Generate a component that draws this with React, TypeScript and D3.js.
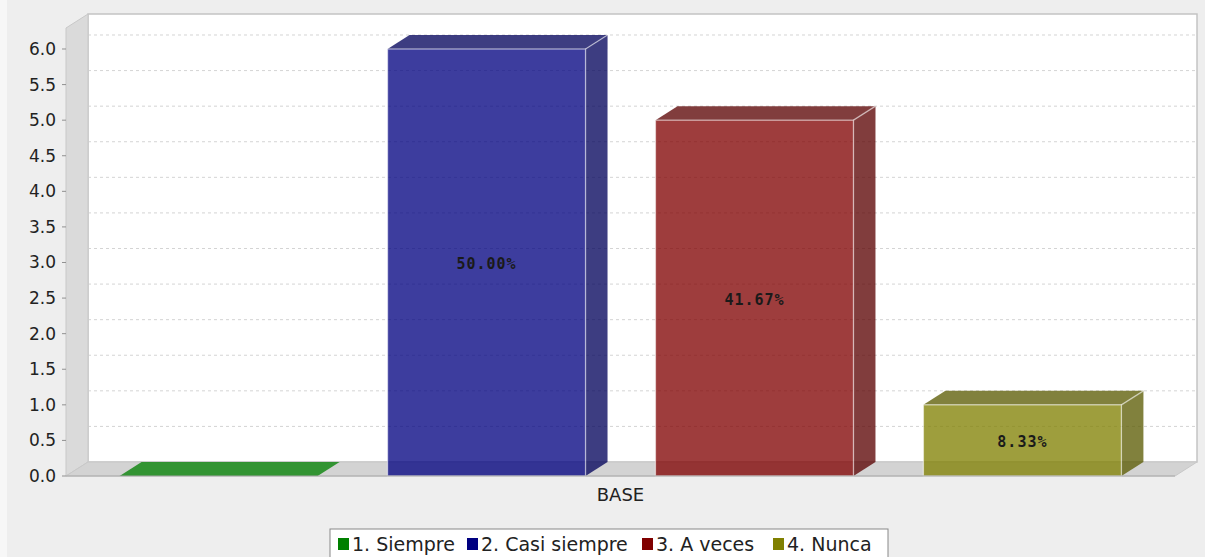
import React from "react";
import * as d3 from "d3";

const category = "BASE";
const seriesNames = ["1. Siempre", "2. Casi siempre", "3. A veces", "4. Nunca"];
const seriesValues = [0, 6, 5, 1];
const seriesLabels = ["", "50.00%", "41.67%", "8.33%"];
const seriesColors = ["#008000", "#000080", "#800000", "#808000"];
const yTicks = [0, 0.5, 1, 1.5, 2, 2.5, 3, 3.5, 4, 4.5, 5, 5.5, 6];

const W = 1205;
const H = 557;
const left = 66;
const right = 1175;
const bottom = 476;
const top = 28;
const DX = 22;
const DY = 14;

export default function App() {
  const y = d3.scaleLinear().domain([0, 6.295]).range([bottom, top]);
  const x = d3
    .scaleBand<string>()
    .domain(seriesNames)
    .range([left, right])
    .paddingInner(0.261)
    .paddingOuter(0.2);
  const bw = x.bandwidth();
  const fmt = d3.format(".1f");
  const darker = (c: string) => {
    const k = d3.rgb(c);
    return d3.rgb(Math.floor(k.r * 0.7), Math.floor(k.g * 0.7), Math.floor(k.b * 0.7)).formatHex();
  };
  const alpha = 0.76;

  // legend layout
  const legendFont = 19;
  const legendX = 330;
  const legendY = 529;
  const legendItemX = [338, 467, 642, 773];
  const legendRight = 888;

  return (
    <div style={{ position: "fixed", left: 0, top: 0, width: W, height: H }}>
      <svg width={W} height={H} style={{ display: "block" }}>
        <rect x={0} y={0} width={W} height={H} fill="#eeeeee" />
        <rect x={0} y={0} width={7} height={H} fill="#f7f7f7" />
        {/* back wall */}
        <rect x={left + DX} y={top - DY} width={right - left} height={bottom - top} fill="#ffffff" stroke="#c4c4c4" strokeWidth={1.5} />
        {/* gridlines */}
        {yTicks.map((t) => (
          <line
            key={"g" + t}
            x1={left + DX}
            x2={right + DX}
            y1={y(t) - DY}
            y2={y(t) - DY}
            stroke="#d4d4d4"
            strokeWidth={1}
            strokeDasharray="3,3"
          />
        ))}
        {/* left wall */}
        <polygon
          points={`${left},${top} ${left + DX},${top - DY} ${left + DX},${bottom - DY} ${left},${bottom}`}
          fill="#dadada"
          stroke="#c8c8c8"
          strokeWidth={1}
        />
        {/* floor */}
        <polygon
          points={`${left},${bottom} ${left + DX},${bottom - DY} ${right + DX},${bottom - DY} ${right},${bottom}`}
          fill="#d3d3d3"
          stroke="#c8c8c8"
          strokeWidth={1}
        />
        {/* bars */}
        {seriesNames.map((s, i) => {
          const x0 = x(s) as number;
          const x1 = x0 + bw;
          const yv = y(seriesValues[i]);
          const y0 = y(0);
          const dk = darker(seriesColors[i]);
          const outline = seriesValues[i] > 0;
          return (
            <g key={s}>
              {outline && (
                <polygon
                  points={`${x1},${yv} ${x1 + DX},${yv - DY} ${x1 + DX},${y0 - DY} ${x1},${y0}`}
                  fill={dk}
                  fillOpacity={alpha}
                />
              )}
              <polygon
                points={`${x0},${yv} ${x0 + DX},${yv - DY} ${x1 + DX},${yv - DY} ${x1},${yv}`}
                fill={outline ? dk : seriesColors[i]}
                fillOpacity={alpha}
              />
              {outline && (
                <rect x={x0} y={yv} width={bw} height={y0 - yv} fill={seriesColors[i]} fillOpacity={alpha} />
              )}
              {outline && (
                <g fill="none" stroke="#ffffff" strokeOpacity={0.55} strokeWidth={1.3}>
                  <rect x={x0} y={yv} width={bw} height={y0 - yv} />
                  <line x1={x1} y1={yv} x2={x1 + DX} y2={yv - DY} />
                </g>
              )}
              {seriesLabels[i] && (
                <text
                  x={x0 + bw / 2}
                  y={(yv + y0) / 2 + 2}
                  textAnchor="middle"
                  dominantBaseline="central"
                  fontFamily="DejaVu Sans Mono"
                  fontWeight="bold"
                  fontSize={15}
                  letterSpacing={1}
                  fill="#1a1a1a"
                >
                  {seriesLabels[i]}
                </text>
              )}
            </g>
          );
        })}
        {/* x axis line */}
        <line x1={left} x2={right} y1={bottom} y2={bottom} stroke="#a8a8a8" strokeWidth={1} />
        {/* y axis ticks */}
        {yTicks.map((t) => (
          <g key={"t" + t}>
            <line x1={left - 4} x2={left} y1={y(t)} y2={y(t)} stroke="#909090" strokeWidth={1} />
            <text
              x={left - 10}
              y={y(t)}
              textAnchor="end"
              dominantBaseline="central"
              fontFamily="DejaVu Sans"
              fontSize={17}
              fill="#222"
            >
              {fmt(t)}
            </text>
          </g>
        ))}
        {/* category label */}
        <text
          x={(left + right) / 2}
          y={494}
          textAnchor="middle"
          dominantBaseline="central"
          fontFamily="DejaVu Sans"
          fontSize={18}
          fill="#222"
        >
          {category}
        </text>
        {/* legend */}
        <rect x={legendX} y={legendY} width={legendRight - legendX} height={H - legendY + 2} fill="#ffffff" stroke="#888888" strokeWidth={1} />
        {seriesNames.map((s, i) => (
          <g key={"l" + s}>
            <rect x={legendItemX[i]} y={538} width={11} height={12} fill={seriesColors[i]} />
            <text
              x={legendItemX[i] + 14}
              y={544}
              dominantBaseline="central"
              fontFamily="DejaVu Sans"
              fontSize={legendFont}
              fill="#222"
            >
              {s}
            </text>
          </g>
        ))}
      </svg>
    </div>
  );
}
